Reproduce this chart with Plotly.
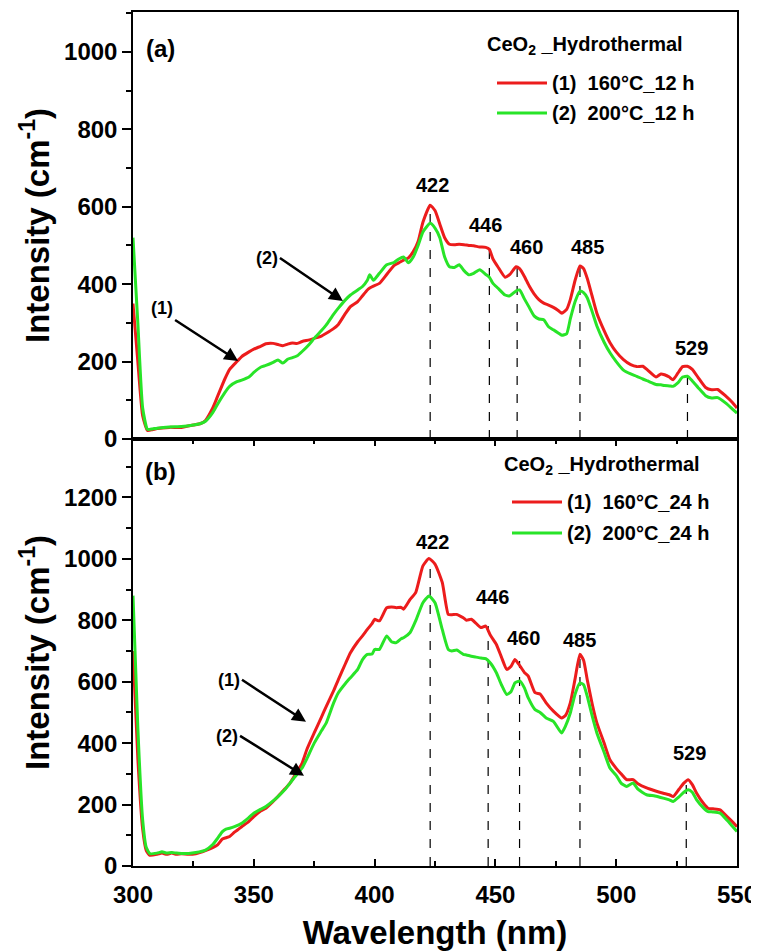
import plotly.graph_objects as go

# ---------------- data: panel (a) 12 h ----------------
wl_a = [300, 302, 304, 306, 308, 310, 315, 320, 325, 328, 330, 333, 335, 338, 340, 343, 345, 348,
        350, 353, 355, 358, 360, 362, 364, 366, 368, 370, 373, 375, 378, 380, 383, 385, 388, 390,
        393, 395, 397, 398, 399.5, 402, 405, 408, 410, 412, 414, 416, 418, 420, 423, 425, 427,
        429, 431, 433, 435, 437, 439, 441, 443.5, 446, 447.5, 449, 451, 454, 456, 458.5, 460,
        462, 464, 466, 468, 470, 472, 474, 476, 477.5, 479.5, 481, 483, 485, 486.5, 488, 490,
        492, 495, 497.5, 500, 503, 506, 508.5, 511, 513, 516.5, 518.5, 520, 522, 523.5, 525.5,
        527.5, 529.5, 531.5, 534, 537, 539.5, 542, 545.5, 548, 550]
red_a = [350, 200, 60, 22, 24, 27, 30, 30, 36, 40, 48, 80, 110, 155, 180, 200, 213, 225,
         232, 240, 246, 247, 244, 241, 245, 248, 247, 252, 256, 260, 266, 273, 285, 296, 325, 342,
         355, 370, 385, 390, 395, 402, 425, 448, 455, 462, 468, 484, 510, 560, 604, 590, 555,
         520, 503, 502, 503, 502, 500, 499, 496, 495, 490, 465, 445, 418, 425, 445, 440,
         420, 395, 375, 360, 351, 346, 340, 332, 325, 335, 360, 410, 447, 440, 415, 370,
         325, 280, 248, 225, 205, 192, 187, 188, 178, 160, 168, 166, 160, 153, 170,
         187, 188, 180, 158, 133, 127, 128, 110, 95, 80]
green_a = [520, 300, 80, 25, 26, 28, 31, 32, 36, 40, 46, 68, 90, 120, 136, 148, 152, 160,
           172, 186, 190, 198, 204, 196, 206, 210, 215, 226, 245, 260, 280, 295, 322, 338, 360, 372,
           385, 394, 410, 424, 410, 428, 450, 456, 465, 470, 455, 470, 500, 535, 557, 545, 520,
           470, 445, 443, 450, 435, 424, 428, 437, 425, 418, 402, 390, 372, 370, 382, 385,
           362, 340, 318, 310, 308, 290, 282, 274, 268, 272, 310, 355, 382, 378, 365, 330,
           292, 250, 222, 200, 178, 168, 162, 155, 150, 141, 140, 138, 137, 136, 145,
           160, 162, 150, 132, 112, 106, 107, 92, 78, 67]

# ---------------- data: panel (b) 24 h ----------------
wl_b = [300, 302, 304, 305.5, 307, 310, 312, 314, 316, 318, 320, 323, 326, 330, 333, 335, 337,
        338.5, 340, 342, 345, 348, 350, 353, 355, 358, 360, 363, 365, 367, 370, 372, 375, 378,
        380, 383, 385, 388, 390, 393, 395, 397, 399, 400, 402, 405, 407, 409, 411, 412, 414.7,
        417, 420, 422.5, 425, 428, 430.5, 432, 434, 436.7, 438, 440, 442, 444, 446, 448, 450.4,
        452.5, 454.7, 456.5, 458.1, 460.2, 462, 463.6, 466.4, 468.5, 471, 474, 477.4, 479, 481,
        483, 485, 486.5, 488, 490, 492, 495, 497.4, 500, 502, 504.3, 507, 509, 512.6, 516,
        519.5, 522, 523.6, 526, 528, 529.8, 531.5, 533.3, 536, 538, 540, 543, 546, 548, 550]
red_b = [700, 350, 120, 50, 35, 38, 42, 38, 42, 38, 40, 38, 40, 50, 60, 69, 88,
         92, 96, 110, 128, 145, 161, 180, 188, 210, 226, 252, 270, 295, 335, 380, 433, 485,
         520, 570, 607, 660, 694, 730, 749, 770, 790, 803, 798, 841, 843, 841, 842, 836, 868,
         890, 977, 1001, 983, 923, 819, 818, 819, 808, 800, 803, 790, 776, 781, 750, 721,
         680, 640, 650, 672, 651, 630, 618, 564, 560, 531, 504, 482, 490, 531,
         610, 689, 670, 607, 530, 466, 400, 346, 318, 300, 281, 281, 268, 254, 245,
         237, 232, 226, 250, 270, 281, 265, 237, 205, 188, 186, 183, 160, 145, 128]
green_b = [880, 450, 150, 60, 40, 42, 46, 42, 44, 42, 41, 41, 44, 52, 70, 90, 112,
           120, 123, 128, 139, 158, 172, 185, 194, 212, 226, 250, 270, 290, 319, 350, 400, 440,
           466, 530, 564, 595, 613, 640, 672, 689, 690, 705, 705, 749, 730, 727, 740, 743, 760,
           798, 857, 879, 857, 770, 705, 700, 703, 689, 687, 683, 680, 677, 675, 660, 629,
           590, 558, 568, 596, 602, 580, 547, 509, 500, 482, 471, 433, 455, 498,
           560, 596, 590, 553, 490, 433, 370, 319, 295, 270, 259, 270, 250, 232, 228,
           221, 215, 210, 225, 240, 248, 240, 215, 190, 177, 176, 172, 148, 130, 112]

# peak markers
peak_labels = ["422", "446", "460", "485", "529"]
peak_x_a = [423, 447.5, 459, 485, 529.5]
peak_top_a = [604, 497, 445, 447, 188]
peak_x_b = [423, 447, 460, 485, 529]
peak_top_b = [1001, 781, 667, 689, 281]
label_pos_a = [(424, 656), (446, 553), (463, 496), (488, 496), (531, 235)]
label_pos_b = [(424, 1056), (449, 877), (461.5, 743), (485, 737), (530.5, 368)]

names_a = ["(1)\u00a0\u00a0160°C_12 h", "(2)\u00a0\u00a0200°C_12 h"]
names_b = ["(1)\u00a0\u00a0160°C_24 h", "(2)\u00a0\u00a0200°C_24 h"]
legend_title = "CeO<sub>2</sub> _Hydrothermal"

RED = "rgb(236,28,28)"
GREEN = "rgb(40,228,40)"
FONT = "Liberation Sans, Arial, sans-serif"

# page body has an 8 px margin: figure is shrunk by that amount on both axes
W, H = 751, 943
ML, MR, MT, MB = 125, 22, 4, 85
PX0, PY1 = 133, 866          # plot-area left / bottom in screen pixels
PW, PH = 604, 854            # plot-area size


def px(x):
    return (x - PX0) / PW


def py(y):
    return (PY1 - y) / PH


fig = go.Figure()


def dashed(xs, tops):
    X, Y = [], []
    for x, t in zip(xs, tops):
        X += [x, x, None]
        Y += [0, t, None]
    return X, Y


LINE_KW = dict(width=3, shape="spline", smoothing=0.5)

# panel (a)
X, Y = dashed(peak_x_a, peak_top_a)
fig.add_trace(go.Scatter(x=X, y=Y, mode="lines", line=dict(color="black", width=1.2, dash="dash"),
                         showlegend=False, hoverinfo="skip", xaxis="x", yaxis="y"))
fig.add_trace(go.Scatter(x=wl_a, y=red_a, mode="lines", name=names_a[0], showlegend=False,
                         line=dict(color=RED, **LINE_KW), xaxis="x", yaxis="y"))
fig.add_trace(go.Scatter(x=wl_a, y=green_a, mode="lines", name=names_a[1], showlegend=False,
                         line=dict(color=GREEN, **LINE_KW), xaxis="x", yaxis="y"))

# panel (b)
X, Y = dashed(peak_x_b, peak_top_b)
fig.add_trace(go.Scatter(x=X, y=Y, mode="lines", line=dict(color="black", width=1.2, dash="dash"),
                         showlegend=False, hoverinfo="skip", xaxis="x2", yaxis="y2"))
fig.add_trace(go.Scatter(x=wl_b, y=red_b, mode="lines", name=names_b[0], showlegend=False,
                         line=dict(color=RED, **LINE_KW), xaxis="x2", yaxis="y2"))
fig.add_trace(go.Scatter(x=wl_b, y=green_b, mode="lines", name=names_b[1], showlegend=False,
                         line=dict(color=GREEN, **LINE_KW), xaxis="x2", yaxis="y2"))

annotations = []
shapes = []
bold = dict(family=FONT, size=20, color="black", weight="bold")
for lab, (x, y) in zip(peak_labels, label_pos_a):
    annotations.append(dict(x=x, y=y, xref="x", yref="y", text=lab, showarrow=False, font=bold))
for lab, (x, y) in zip(peak_labels, label_pos_b):
    annotations.append(dict(x=x, y=y, xref="x2", yref="y2", text=lab, showarrow=False, font=bold))

# panel letters
annotations.append(dict(x=311.2, y=1010, xref="x", yref="y", text="(a)", showarrow=False,
                        font=dict(family=FONT, size=24, color="black", weight="bold")))
annotations.append(dict(x=311.2, y=1285, xref="x2", yref="y2", text="(b)", showarrow=False,
                        font=dict(family=FONT, size=24, color="black", weight="bold")))

# legends (title, line samples, entries) for each panel
for names, tx, ty, lx, ly in [(names_a, 485, 45, 497, [83, 113]),
                              (names_b, 502, 465, 512, [502, 533])]:
    annotations.append(dict(x=px(tx), y=py(ty), xref="paper", yref="paper", xanchor="left",
                            yanchor="middle", text=legend_title, showarrow=False, font=bold))
    for name, color, yy in zip(names, [RED, GREEN], ly):
        shapes.append(dict(type="line", xref="paper", yref="paper", x0=px(lx), x1=px(lx + 50),
                           y0=py(yy), y1=py(yy), line=dict(color=color, width=3)))
        annotations.append(dict(x=px(lx + 53), y=py(yy), xref="paper", yref="paper", xanchor="left",
                                yanchor="middle", text=name, showarrow=False, font=bold))

# curve pointer labels with arrows
small = dict(family=FONT, size=18, color="black", weight="bold")
for txt, hx, hy, ax, ay, ya, xr, yr in [
    ("(1)", 343.5, 201.5, -63, -41, "bottom", "x", "y"),
    ("(2)", 386.9, 356.6, -63, -43, "middle", "x", "y"),
    ("(1)", 371.6, 469.5, -64, -42, "middle", "x2", "y2"),
    ("(2)", 370.8, 293.4, -64, -40, "middle", "x2", "y2"),
]:
    annotations.append(dict(x=hx, y=hy, xref=xr, yref=yr, text=txt, showarrow=True, ax=ax, ay=ay,
                            xanchor="right", yanchor=ya, font=small,
                            arrowhead=2, arrowsize=1.1, arrowwidth=2.5, arrowcolor="black"))

tickfont = dict(family=FONT, size=24, color="black", weight="bold")
titlefont = dict(family=FONT, size=33, color="black", weight="bold")

common_x = dict(range=[300, 550], showline=True, linecolor="black", linewidth=1.5, automargin=False,
                showgrid=False, zeroline=False, dtick=50, tick0=300)
common_y = dict(showline=True, linecolor="black", linewidth=1.5, showgrid=False, zeroline=False,
                ticks="outside", ticklen=9, tickwidth=1.5, tickcolor="black", dtick=200,
                tickfont=tickfont, mirror=True, automargin=False,
                minor=dict(dtick=100, ticks="outside", ticklen=5, tickwidth=1.5, tickcolor="black"))

fig.update_layout(
    width=W, height=H,
    margin=dict(l=ML, r=MR, t=MT, b=MB, autoexpand=False),
    paper_bgcolor="white", plot_bgcolor="white",
    font=dict(family=FONT, color="black"),
    showlegend=False,
    xaxis=dict(**common_x, anchor="y", ticks="", showticklabels=False, mirror=True),
    yaxis=dict(**common_y, domain=[0.5, 1], range=[0, 1103], anchor="x",
               title=dict(text="Intensity (cm<sup>-1</sup>)", font=titlefont, standoff=5)),
    xaxis2=dict(**common_x, anchor="y2", ticks="inside", ticklen=7, tickwidth=1.5, tickcolor="black",
                mirror="ticks", tickfont=tickfont, ticklabelstandoff=6,
                minor=dict(dtick=25, ticks="inside", ticklen=5, tickwidth=1.5, tickcolor="black"),
                title=dict(text="Wavelength (nm)", font=titlefont, standoff=14)),
    yaxis2=dict(**common_y, domain=[0, 0.5], range=[0, 1390], anchor="x2",
                title=dict(text="Intensity (cm<sup>-1</sup>)", font=titlefont, standoff=5)),
    annotations=annotations,
    shapes=shapes,
)

fig.write_html("out.html")
